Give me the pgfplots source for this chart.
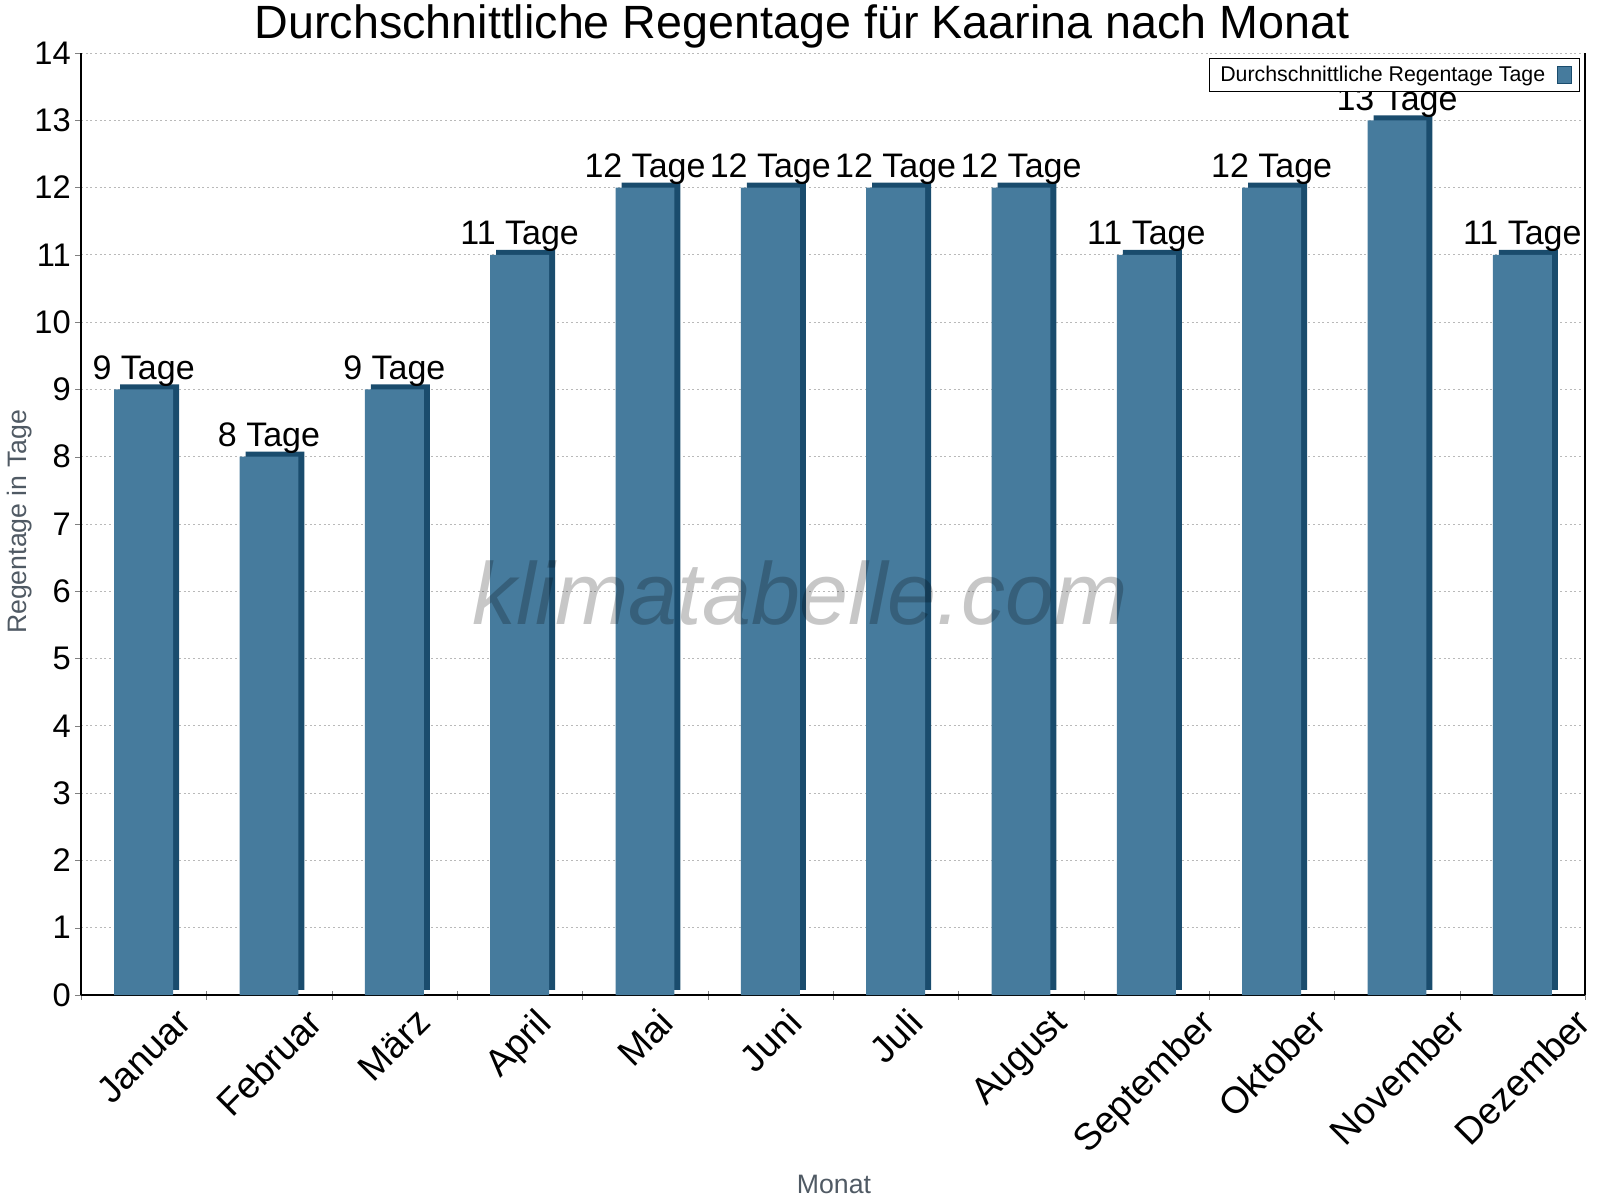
\documentclass[border=0pt]{standalone}
\usepackage{fontspec}
\setmainfont{Liberation Sans}
\usepackage{graphicx}
\usepackage{pgfplots}
\pgfplotsset{compat=1.18}
\definecolor{barfront}{HTML}{467B9D}
\definecolor{barside}{HTML}{1A4C6D}
\definecolor{labgray}{HTML}{505A64}
\begin{document}
\begin{tikzpicture}
\useasboundingbox (0,0) rectangle (1200pt,900pt);
\begin{axis}[
  at={(60.75pt,153.75pt)}, anchor=south west,
  scale only axis, width=1128pt, height=706.5pt,
  xmin=-0.5, xmax=11.5, ymin=0, ymax=14,
  axis x line*=bottom, axis y line*=box,
  ytick pos=left,
  tick align=outside,
  ytick={0,1,...,14},
  major tick length=4.5pt,
  ymajorgrids,
  grid style={dash pattern=on 1.5pt off 2pt, gray!55, line width=0.6pt},
  xtick={0,1,...,11},
  xticklabels={\rotatebox{45}{Januar},\rotatebox{45}{Februar},\rotatebox{45}{März},\rotatebox{45}{April},\rotatebox{45}{Mai},\rotatebox{45}{Juni},\rotatebox{45}{Juli},\rotatebox{45}{August},\rotatebox{45}{September},\rotatebox{45}{Oktober},\rotatebox{45}{November},\rotatebox{45}{Dezember}},
  major x tick style={draw=none},
  minor xtick={-0.5,0.5,...,11.5},
  minor tick length=6.5pt,
  minor x tick style={yshift=3pt},
  xticklabel style={anchor=north, inner sep=0pt, yshift=-4pt, font=\fontsize{28}{28}\selectfont},
  yticklabel style={anchor=east, inner sep=0pt, xshift=-3pt, font=\fontsize{24.5}{24}\selectfont},
  /pgf/number format/assume math mode=true,
  axis line style={black, line width=0.8pt},
  legend style={at={(0.9967,0.9947)}, anchor=north east, draw=black, fill=white, line width=0.6pt,
    font=\fontsize{16}{18}\selectfont, inner xsep=6pt, inner ysep=4pt},
  legend plot pos=right,
  legend cell align=left,
  legend image code/.code={\path (0pt,0pt); \draw[fill=barfront, draw=barside, line width=0.6pt] (7pt,-6.4pt) rectangle (17.5pt,6.4pt);},
]
\addplot[ybar, bar width=0.47, bar shift=0pt, fill=barside, draw=none, xshift=4.5pt, yshift=3.75pt, forget plot]
  coordinates {(0,9) (1,8) (2,9) (3,11) (4,12) (5,12) (6,12) (7,12) (8,11) (9,12) (10,13) (11,11)};
\addplot[ybar, bar width=0.47, bar shift=0pt, fill=barfront, draw=none,
  nodes near coords={\pgfmathprintnumber{\pgfplotspointmeta}~Tage},
  every node near coord/.append style={font=\fontsize{25.5}{26}\selectfont, text=black, anchor=base, inner sep=0pt, yshift=7.5pt}]
  coordinates {(0,9) (1,8) (2,9) (3,11) (4,12) (5,12) (6,12) (7,12) (8,11) (9,12) (10,13) (11,11)};
\addlegendentry{Durchschnittliche Regentage Tage}
\end{axis}
\node[font=\fontsize{66}{70}\selectfont\itshape, text=black, opacity=0.22] at (600pt,455pt) {klimatabelle.com};
\node[font=\fontsize{35}{40}\selectfont, anchor=base] at (601.5pt,870.75pt) {Durchschnittliche Regentage für Kaarina nach Monat};
\node[rotate=90, font=\fontsize{20}{22}\selectfont, text=labgray] at (15pt,508.5pt) {Regentage in Tage};
\node[font=\fontsize{20}{22}\selectfont, text=labgray] at (625.5pt,12pt) {Monat};
\end{tikzpicture}
\end{document}
